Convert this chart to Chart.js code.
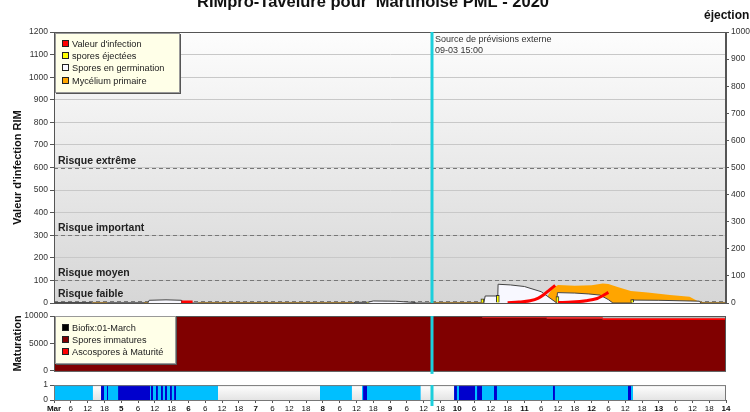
<!DOCTYPE html>
<html>
<head>
<meta charset="utf-8">
<title>RIMpro-Tavelure</title>
<script src="https://cdn.jsdelivr.net/npm/chart.js@4.4.1/dist/chart.umd.min.js"></script>
<style>
  body { margin: 0; background: #fff; }
  .wrap { position: relative; width: 750px; height: 412px; overflow: hidden; }
  canvas { position: absolute; left: 0; }
  #rimChart { top: 0; }
  #matChart { top: 308px; }
  #wetChart { top: 378px; }
</style>
</head>
<body>
<div class="wrap">
  <canvas id="rimChart" width="750" height="312"></canvas>
  <canvas id="matChart" width="750" height="70"></canvas>
  <canvas id="wetChart" width="750" height="34"></canvas>
</div>
<script>
Chart.defaults.font.family = '"Liberation Sans", Arial, sans-serif';
Chart.defaults.color = '#333';

// x values are hours counted from 4 March 00:00 (10 days shown)
const xMax = 240;
const forecastHour = 135; // 09-03 15:00

// Valeur d'infection (null breaks the line)
const infHours  = [45.5, 49.5, 50, 162, 166, 170, 173, 175, 177, 179, 179.5, 180, 185, 190, 194, 196, 198];
const infValues = [4, 4, null, 1, 4, 10, 22, 38, 58, 78, null, 2, 4, 10, 20, 32, 47];

// spores éjectées (right axis)
const ejectHours  = [112, 153, 158.5, 179.8, 206.5];
const ejectValues = [3, 15, 28, 24, 13];

// Spores en germination
const germHours  = [0, 13.5, 13.6, 19, 19.1, 32, 32.1, 33.5, 34, 40, 45.5, 45.6, 107, 107.5, 112, 114, 122, 129, 129.5, 153.5,
                    154, 158.5, 158.6, 163, 168, 174, 178.9, 179.5, 179.8, 186, 191, 195, 198, 199.6, 206.3, 206.5, 216, 230.5, 231, 240];
const germValues = [2, 2, 0, 0, 1, 1, 0, 0, 12, 14, 12, 0, 0, 3, 3, 9, 8, 2, 0, 0,
                    31, 31, 83, 80, 73, 50, 6, 0, 46, 44, 40, 35, 15, 0, 0, 13, 12, 8, 0, 0];

// Mycélium primaire
const mycHours  = [0, 13.6, 13.7, 19, 19.1, 32, 32.1, 34, 34.1, 51, 52, 107, 107.1, 134, 134.5, 153.5, 153.6, 175.5, 176.5, 178,
                   180, 186, 192, 196, 198, 201, 206, 212, 220, 227, 230, 232, 240];
const mycValues = [0, 0, 3, 3, 0, 0, 3, 3, 0, 0, 3, 3, 0, 0, 3, 3, 0, 0, 35, 65,
                   80, 76, 79, 86, 84, 72, 53, 46, 35, 28, 8, 3, 3];

// risk thresholds
const riskLevels = [600, 300, 100, 7];
const riskLabels = ['Risque extrême', 'Risque important', 'Risque moyen', 'Risque faible'];

// maturation panel
const matHours       = [0, 153, 176, 196, 215, 240];
const immatureValues = [9980, 9830, 9700, 9520, 9280, 9280];
const matureValues   = [0, 0, 150, 250, 330, 330];
const biofixHours    = [153, 240];
const biofixValues   = [9950, 9950];

// wetness strip (periods in hours)
const wetStart  = [0, 16.8, 95, 110, 142.9];
const wetEnd    = [13.9, 58.6, 106.4, 131, 206.8];
const rainStart = [16.8, 18.9, 22.9, 34.6, 36.4, 38.2, 39.6, 41.4, 42.9, 110.4, 142.9, 144.6, 151.1, 157.1, 178.2, 205];
const rainEnd   = [17.9, 19.3, 34.3, 35.4, 37.1, 38.9, 40.4, 42.1, 43.6, 111.8, 143.9, 150.4, 152.9, 158.2, 178.9, 206.1];

const pts = (xs, ys) => xs.map((x, i) => ({x: x, y: ys[i]}));
// each period becomes a block of height 1, separated by a gap
const periods = (s, e) => s.flatMap((v, i) => [{x: v, y: 1}, {x: e[i], y: 1}, {x: e[i], y: null}]);

// background gradient, frame and forecast line for each panel
const panelDecor = {
  id: 'panelDecor',
  beforeDraw(chart, args, o) {
    const {ctx, chartArea: a} = chart;
    const g = ctx.createLinearGradient(0, a.top, 0, a.bottom);
    g.addColorStop(0, o.bgTop);
    g.addColorStop(1, o.bgBottom);
    ctx.save();
    ctx.fillStyle = g;
    ctx.fillRect(a.left, a.top, a.width, a.height);
    ctx.restore();
  },
  afterDatasetsDraw(chart, args, o) {
    const {ctx, chartArea: a} = chart;
    const fx = Math.round(chart.scales.x.getPixelForValue(forecastHour));
    ctx.save();
    ctx.strokeStyle = o.frame;
    ctx.lineWidth = 1;
    ctx.strokeRect(a.left + 0.5, a.top + 0.5, a.width - 1, a.height);
    ctx.strokeStyle = '#1ccfdc';
    ctx.lineWidth = 3;
    ctx.beginPath();
    ctx.moveTo(fx, a.top);
    ctx.lineTo(fx, a.bottom + o.lineExtend);
    ctx.stroke();
    ctx.restore();
  }
};

// legend in a cream box, drawn inside the plot
const boxLegend = {
  id: 'boxLegend',
  afterDraw(chart, args, o) {
    if (!o.show) return;
    const ctx = chart.ctx;
    ctx.save();
    ctx.fillStyle = '#555';
    ctx.fillRect(o.x + 1, o.y + 1, o.w, o.h);
    ctx.fillStyle = '#ffffe8';
    ctx.fillRect(o.x, o.y, o.w, o.h);
    ctx.strokeStyle = '#999';
    ctx.lineWidth = 1;
    ctx.strokeRect(o.x + 0.5, o.y + 0.5, o.w - 1, o.h - 1);
    ctx.font = '9.2px "Liberation Sans", Arial, sans-serif';
    ctx.textBaseline = 'middle';
    chart.data.datasets.forEach((ds, i) => {
      const cy = Math.round(o.y + o.first + i * o.step);
      ctx.fillStyle = ds.backgroundColor;
      ctx.fillRect(o.x + 7, cy - 4, 7, 7);
      ctx.strokeStyle = '#222';
      ctx.strokeRect(o.x + 7.5, cy - 3.5, 6, 6);
      ctx.fillStyle = '#222';
      ctx.fillText(ds.label, o.x + 17, cy);
    });
    ctx.restore();
  }
};

// risk lines, title and notes of the main panel
const rimTexts = {
  id: 'rimTexts',
  beforeDatasetsDraw(chart) {
    const {ctx, chartArea: a, scales: {y}} = chart;
    ctx.save();
    ctx.strokeStyle = '#777';
    ctx.setLineDash([4, 3]);
    ctx.font = 'bold 10.5px "Liberation Sans", Arial, sans-serif';
    ctx.fillStyle = '#222';
    riskLevels.forEach((v, i) => {
      const py = Math.round(y.getPixelForValue(v)) + 0.5;
      ctx.beginPath();
      ctx.moveTo(a.left, py);
      ctx.lineTo(a.right, py);
      ctx.stroke();
      ctx.fillText(riskLabels[i], a.left + 4, py - 5);
    });
    ctx.restore();
  },
  afterDraw(chart) {
    const {ctx, scales: {x}} = chart;
    ctx.save();
    ctx.fillStyle = '#111';
    ctx.textAlign = 'center';
    ctx.font = 'bold 16.5px "Liberation Sans", Arial, sans-serif';
    ctx.fillText("RIMpro-Tavelure pour 'Martinoise PML - 2020", 373, 7);
    ctx.textAlign = 'left';
    ctx.font = 'bold 12px "Liberation Sans", Arial, sans-serif';
    ctx.fillText('éjection', 704, 19);
    ctx.fillStyle = '#333';
    ctx.font = '9px "Liberation Sans", Arial, sans-serif';
    const fx = x.getPixelForValue(forecastHour) + 3;
    ctx.fillText('Source de prévisions externe', fx, 42);
    ctx.fillText('09-03 15:00', fx, 53);
    ctx.restore();
  }
};

const tickFont = {size: 8.5};
const axisBorder = {color: '#555'};
const plain = v => String(v);

new Chart(document.getElementById('rimChart'), {
  type: 'line',
  data: {
    datasets: [
      {
        label: "Valeur d'infection",
        data: pts(infHours, infValues),
        borderColor: '#ff0000',
        backgroundColor: '#ff0000',
        borderWidth: 3,
        pointRadius: 0,
        fill: false,
        spanGaps: false,
        cubicInterpolationMode: 'monotone'
      },
      {
        type: 'bar',
        label: 'spores éjectées',
        data: pts(ejectHours, ejectValues),
        backgroundColor: '#ffff00',
        borderColor: '#333',
        borderWidth: 1,
        barThickness: 3,
        yAxisID: 'yEject'
      },
      {
        label: 'Spores en germination',
        data: pts(germHours, germValues),
        borderColor: '#444',
        backgroundColor: '#f8f8ff',
        borderWidth: 1,
        pointRadius: 0,
        fill: 'origin'
      },
      {
        label: 'Mycélium primaire',
        data: pts(mycHours, mycValues),
        borderColor: '#ffa500',
        backgroundColor: '#ffa500',
        borderWidth: 0,
        pointRadius: 0,
        fill: 'origin'
      }
    ]
  },
  options: {
    responsive: false,
    animation: false,
    layout: {padding: {top: 32, bottom: 9}},
    plugins: {
      legend: {display: false},
      tooltip: {enabled: false},
      panelDecor: {bgTop: '#fdfdfd', bgBottom: '#d6d6d6', frame: '#555', lineExtend: 0},
      boxLegend: {show: true, x: 55, y: 33, w: 125, h: 60, first: 11, step: 12.2}
    },
    scales: {
      x: {type: 'linear', min: 0, max: xMax, display: false, offset: false},
      y: {
        position: 'left', min: 0, max: 1200,
        ticks: {stepSize: 100, font: tickFont, color: '#333', padding: 2, callback: plain},
        grid: {color: '#c8c8c8', tickColor: '#555', tickLength: 4},
        border: axisBorder,
        title: {display: true, text: "Valeur d'infection RIM", color: '#111',
                font: {size: 11, weight: 'bold'}, padding: {top: 11}},
        afterFit: s => { s.width = 54; }
      },
      yEject: {
        position: 'right', min: 0, max: 1000,
        ticks: {stepSize: 100, font: tickFont, color: '#333', padding: 2, callback: plain},
        grid: {drawOnChartArea: false, tickColor: '#555', tickLength: 3},
        border: axisBorder,
        afterFit: s => { s.width = 24; }
      }
    }
  },
  plugins: [panelDecor, rimTexts, boxLegend]
});

new Chart(document.getElementById('matChart'), {
  type: 'line',
  data: {
    datasets: [
      {
        label: 'Biofix:01-March',
        data: pts(biofixHours, biofixValues),
        borderColor: '#000',
        backgroundColor: '#000',
        borderWidth: 1,
        pointRadius: 0,
        fill: false,
        stack: 'biofix'
      },
      {
        label: 'Spores immatures',
        data: pts(matHours, immatureValues),
        borderColor: '#800000',
        backgroundColor: '#800000',
        borderWidth: 0,
        pointRadius: 0,
        stepped: 'after',
        fill: 'origin'
      },
      {
        label: 'Ascospores à Maturité',
        data: pts(matHours, matureValues),
        borderColor: '#ff0000',
        backgroundColor: '#ff0000',
        borderWidth: 0,
        pointRadius: 0,
        stepped: 'after',
        fill: '-1'
      }
    ]
  },
  options: {
    responsive: false,
    animation: false,
    layout: {padding: {top: 8, bottom: 6, right: 24}},
    plugins: {
      legend: {display: false},
      tooltip: {enabled: false},
      panelDecor: {bgTop: '#b8b8b8', bgBottom: '#b8b8b8', frame: '#555', lineExtend: 3},
      boxLegend: {show: true, x: 55, y: 8, w: 121, h: 48, first: 12, step: 12}
    },
    scales: {
      x: {type: 'linear', min: 0, max: xMax, display: false, offset: false},
      y: {
        position: 'left', min: 0, max: 10000, stacked: true,
        ticks: {stepSize: 5000, font: tickFont, color: '#333', padding: 2, callback: plain},
        grid: {drawOnChartArea: false, tickColor: '#555', tickLength: 4},
        border: axisBorder,
        title: {display: true, text: 'Maturation', color: '#111',
                font: {size: 11, weight: 'bold'}, padding: {top: 11}},
        afterFit: s => { s.width = 54; }
      }
    }
  },
  plugins: [panelDecor, boxLegend]
});

new Chart(document.getElementById('wetChart'), {
  type: 'line',
  data: {
    datasets: [
      {label: 'Pluie', data: periods(rainStart, rainEnd), backgroundColor: '#0000cd',
       borderWidth: 0, pointRadius: 0, fill: 'origin', spanGaps: false},
      {label: 'Humectation', data: periods(wetStart, wetEnd), backgroundColor: '#00bfff',
       borderWidth: 0, pointRadius: 0, fill: 'origin', spanGaps: false}
    ]
  },
  options: {
    responsive: false,
    animation: false,
    layout: {padding: {top: 6, right: 24}},
    plugins: {
      legend: {display: false},
      tooltip: {enabled: false},
      panelDecor: {bgTop: '#ffffff', bgBottom: '#e4e4e4', frame: '#777', lineExtend: 6}
    },
    scales: {
      x: {
        type: 'linear', min: 0, max: xMax, offset: false,
        ticks: {
          stepSize: 6, autoSkip: false, maxRotation: 0, padding: 1, color: '#111',
          font: c => ({size: 8, weight: (c.tick && c.tick.value % 24 === 0) ? 'bold' : 'normal'}),
          callback: v => v % 24 === 0 ? (v === 0 ? 'Mar' : String(4 + v / 24)) : String(v % 24)
        },
        grid: {drawOnChartArea: false, tickColor: '#555', tickLength: 3},
        border: axisBorder,
        afterFit: s => { s.height = 12; }
      },
      y: {
        position: 'left', min: 0, max: 1,
        ticks: {stepSize: 1, autoSkip: false, font: tickFont, color: '#333', padding: 2, callback: plain},
        grid: {drawOnChartArea: false, tickColor: '#555', tickLength: 4},
        border: axisBorder,
        afterFit: s => { s.width = 54; }
      }
    }
  },
  plugins: [panelDecor]
});
</script>
</body>
</html>
